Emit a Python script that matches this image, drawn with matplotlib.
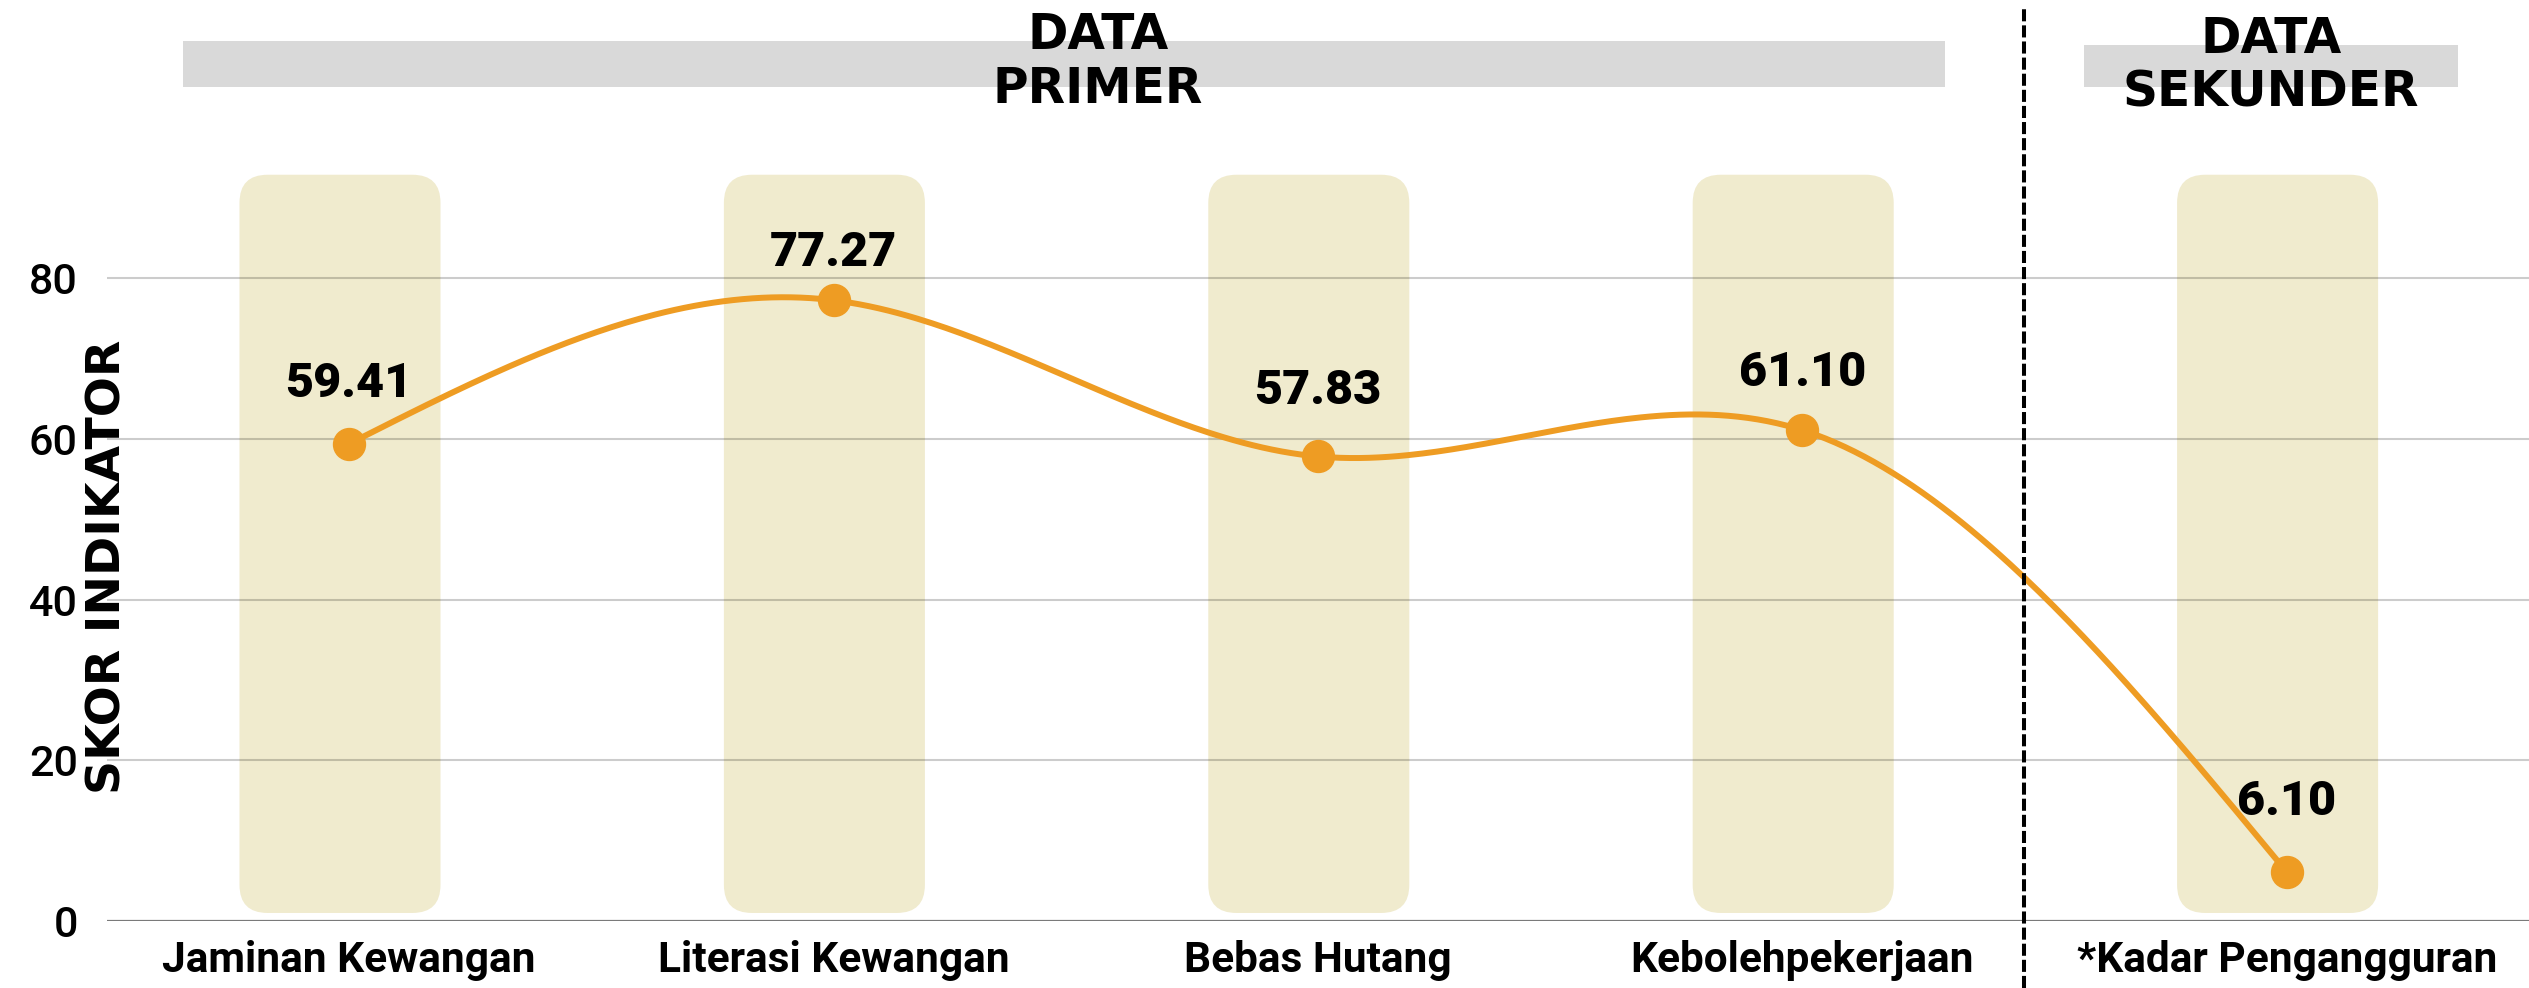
import numpy as np
import matplotlib
matplotlib.use('Agg')
import matplotlib.pyplot as plt
from matplotlib import font_manager as fm
from matplotlib.patches import FancyBboxPatch, Rectangle
from matplotlib.transforms import blended_transform_factory
from matplotlib.lines import Line2D

# data
categories = ['Jaminan Kewangan', 'Literasi Kewangan', 'Bebas Hutang',
              'Kebolehpekerjaan', '*Kadar Pengangguran']
scores = [59.41, 77.27, 57.83, 61.10, 6.10]
y_ticks = [0, 20, 40, 60, 80]
group_labels = ['DATA\nPRIMER', 'DATA\nSEKUNDER']

# label offsets above the points (points)
label_offsets = [34, 25, 38, 32, 41]

ORANGE = '#EE9C23'
BAR_BG = '#F0EBCE'
HEAD_BG = '#D9D9D9'


def pick(*names):
    for n in names:
        try:
            fm.findfont(fm.FontProperties(family=n), fallback_to_default=False)
            return n
        except ValueError:
            pass
    return 'DejaVu Sans'


label_font = pick('Roboto', 'Liberation Sans')


def natural_spline(y, n=400):
    # natural cubic spline through equally spaced points
    y = np.asarray(y, dtype=float)
    k = len(y)
    A = np.zeros((k, k))
    b = np.zeros(k)
    A[0, 0] = A[-1, -1] = 1
    for i in range(1, k - 1):
        A[i, i - 1:i + 2] = [1, 4, 1]
        b[i] = 6 * (y[i + 1] - 2 * y[i] + y[i - 1])
    M = np.linalg.solve(A, b)
    xs = np.linspace(0, k - 1, n)
    i = np.minimum(xs.astype(int), k - 2)
    t = xs - i
    ys = ((1 - t) * y[i] + t * y[i + 1]
          + ((1 - t) ** 3 - (1 - t)) * M[i] / 6
          + (t ** 3 - t) * M[i + 1] / 6)
    return xs, ys


W, H = 2529, 988
fig = plt.figure(figsize=(W / 100, H / 100), dpi=100)
ax_l, ax_b, ax_w, ax_h = 107, H - 921, W - 107, 803.3
ax = fig.add_axes([ax_l / W, ax_b / H, ax_w / W, ax_h / H])

x = np.arange(len(categories))
ax.set_xlim(-0.5, len(categories) - 0.5)
ax.set_ylim(0, 100)

# rounded background columns
px_x = ax_w / 5.0
px_y = ax_h / 100.0
asp = px_x / px_y
for xi in x:
    bar = FancyBboxPatch((xi - 0.019 - 0.2075, 1.0), 0.415, 91.9,
                         boxstyle='round,pad=0,rounding_size=0.058',
                         mutation_aspect=asp, facecolor=BAR_BG,
                         edgecolor='none', zorder=0)
    ax.add_patch(bar)

# grid lines
for yt in y_ticks[1:]:
    ax.axhline(yt, color='black', alpha=0.2, lw=1.5, zorder=1)
ax.axhline(0, color='#7a7a7a', lw=1.6, zorder=1)

xs, ys = natural_spline(scores)
ax.plot(xs, ys, color=ORANGE, lw=4.3, zorder=3, solid_capstyle='round')
ax.plot(x, scores, 'o', color=ORANGE, markersize=23, zorder=4)

for xi, v, off in zip(x, scores, label_offsets):
    ax.annotate(f'{v:.2f}', (xi, v), xytext=(0, off), textcoords='offset points',
                ha='center', va='baseline', fontsize=35, fontweight='black',
                family=label_font, color='black', zorder=5)

for s in ax.spines.values():
    s.set_visible(False)
ax.set_xticks(x)
ax.set_xticklabels(categories, fontsize=30.5, fontweight='bold', family=label_font)
ax.set_yticks(y_ticks)
ax.set_yticklabels([str(t) for t in y_ticks], fontsize=31, fontweight='medium',
                   family=label_font)
ax.tick_params(axis='x', length=0, pad=14)
ax.tick_params(axis='y', length=0, pad=21)

# dashed separator, spans past the axes
trans = blended_transform_factory(ax.transData, fig.transFigure)
sep = Line2D([3.457, 3.457], [0, 1 - 8 / H], transform=trans, color='black',
             lw=2.9, linestyle=(0, (3, 1)), zorder=6)
fig.add_artist(sep)

# group headers
fig.add_artist(Rectangle((183 / W, 1 - 87 / H), (1945 - 183) / W, 46 / H,
                         transform=fig.transFigure, facecolor=HEAD_BG,
                         edgecolor='none', zorder=0))
fig.add_artist(Rectangle((2084 / W, 1 - 87 / H), (2458 - 2084) / W, 42 / H,
                         transform=fig.transFigure, facecolor=HEAD_BG,
                         edgecolor='none', zorder=0))
fig.text(1098 / W, 1 - 62 / H, group_labels[0], ha='center', va='center',
         fontsize=35, fontweight='bold', family='DejaVu Sans', linespacing=1.15,
         zorder=2)
fig.text(2271 / W, 1 - 66 / H, group_labels[1], ha='center', va='center',
         fontsize=35, fontweight='bold', family='DejaVu Sans', linespacing=1.15,
         zorder=2)

fig.text(108 / W, 1 - 567 / H, 'SKOR INDIKATOR', rotation=90, ha='center',
         va='center', fontsize=34, fontweight='bold', family='DejaVu Sans')

fig.savefig('out.png', dpi=100)
